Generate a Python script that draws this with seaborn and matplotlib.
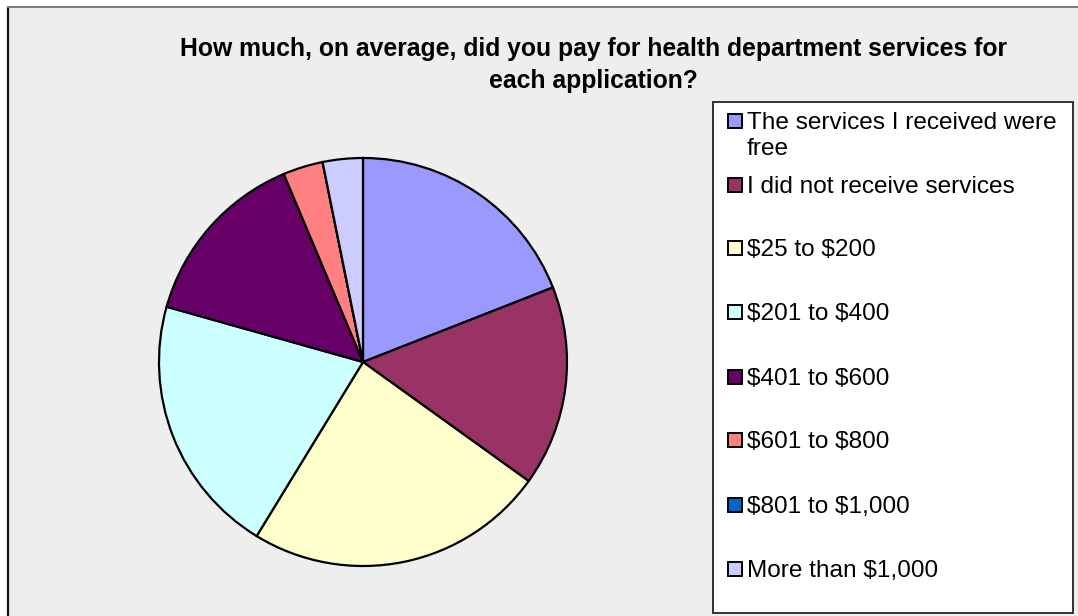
import matplotlib
matplotlib.use("Agg")
import matplotlib.pyplot as plt
from matplotlib.patches import Rectangle
from matplotlib.lines import Line2D
import seaborn as sns

# Survey responses: number of applicants in each fee bracket
categories = [
    "The services I received were\nfree",
    "I did not receive services",
    "$25 to $200",
    "$201 to $400",
    "$401 to $600",
    "$601 to $800",
    "$801 to $1,000",
    "More than $1,000",
]
counts = [12, 10, 15, 13, 9, 2, 0, 2]
colors = ["#9999FF", "#993366", "#FFFFCC", "#CCFFFF",
          "#660066", "#FF8080", "#0066CC", "#CCCCFF"]
title = ("How much, on average, did you pay for health department services for\n"
         "each application?")

sns.set_style("white")
plt.rcParams["font.family"] = ["Liberation Sans", "DejaVu Sans"]
plt.rcParams["text.parse_math"] = False

W, H = 1078, 616
fig = plt.figure(figsize=(W / 100, H / 100), dpi=100)
fig.patch.set_facecolor("white")


def fx(px):
    return px / W


def fy(py):
    return 1 - py / H


# chart area background and its frame
fig.patches.append(Rectangle((fx(7), 0), 1 - fx(7), fy(6), transform=fig.transFigure,
                             facecolor="#EEEEEE", edgecolor="none", zorder=-2))
fig.lines.append(Line2D([fx(7.5), fx(7.5)], [0, fy(6.5)], transform=fig.transFigure,
                        color="#111111", lw=1.6, zorder=-1, solid_capstyle="butt"))
fig.lines.append(Line2D([fx(7), 1], [fy(6.5), fy(6.5)], transform=fig.transFigure,
                        color="#777777", lw=1.4, zorder=-1, solid_capstyle="butt"))

# pie
r = 204
cx, cy = 363, 362
ax = fig.add_axes([fx(cx - r), fy(cy + r), (2 * r) / W, (2 * r) / H], zorder=2)
ax.patch.set_alpha(0)
ax.pie(counts, colors=colors, startangle=90, counterclock=False,
       wedgeprops=dict(edgecolor="black", linewidth=1.6))
ax.set_xlim(-1.0, 1.0)
ax.set_ylim(-1.0, 1.0)
ax.set_aspect("equal")
ax.axis("off")

# title
fig.text(fx(593), fy(65), title, ha="center", va="center", fontsize=17.8,
         weight="bold", linespacing=1.4, color="black")

# legend box
fig.patches.append(Rectangle((fx(713), fy(613)), fx(1073) - fx(713), fy(102) - fy(613),
                             transform=fig.transFigure, facecolor="white",
                             edgecolor="#222222", lw=1.3, zorder=1))
row_y = [121, 185, 248, 312, 377, 440, 505, 569]
for label, col, y in zip(categories, colors, row_y):
    fig.patches.append(Rectangle((fx(728), fy(y + 7)), 14 / W, 14 / H,
                                 transform=fig.transFigure, facecolor=col,
                                 edgecolor="black", lw=1.4, zorder=2))
    for i, line in enumerate(label.split("\n")):
        fig.text(fx(747), fy(y + 2 + 26 * i), line, ha="left", va="center",
                 fontsize=17.6, color="black", zorder=3)

fig.savefig("out.png", dpi=100)
